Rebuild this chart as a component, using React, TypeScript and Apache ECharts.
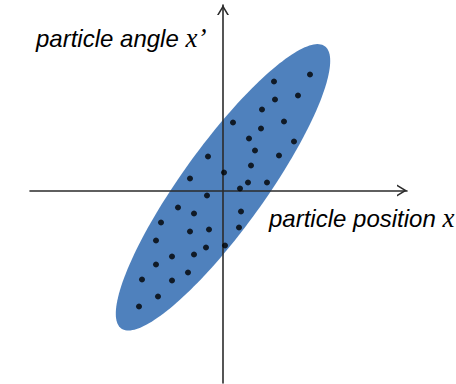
import React, { useEffect, useRef } from "react";
import * as echarts from "echarts";

// Phase-space particles: position x and angle x'
const particleX = [
  8.7, 5.1, 7.5, 5.2, 3.9, 1.0, 6.1, 3.8, 2.6, 7.1, 3.2, -1.5, 5.6, 2.8, 0.1, -3.3, 2.5, 4.4, 1.7,
  -1.6, -4.5, -2.9, 1.8, -6.2, -3.3, -1.4, 1.6, -6.7, 0.2, -1.7, -2.9, -5.1, -6.7, -3.5, -8.1, -5.1,
  -6.5, -8.4,
];
const particleXp = [
  11.6, 10.9, 9.5, 9.1, 8.1, 6.8, 6.9, 6.2, 5.2, 4.9, 4.0, 3.4, 3.5, 2.5, 1.8, 1.2, 0.8, 0.8, 0.2,
  -0.5, -1.7, -2.3, -2.1, -3.2, -4.1, -3.9, -3.7, -5.0, -5.5, -5.7, -6.4, -6.6, -7.4, -8.2, -8.9,
  -9.0, -10.6, -11.6,
];

// Emittance ellipse: centre x, centre x', semi-major, semi-minor, tilt (degrees)
const ellipseParams = [0.0, 0.32, 17.4, 4.15, 54.2];

const axisRangeX = [-19.3, 18.4];
const axisRangeY = [-19.25, 18.55];

const xLabel = "particle position ";
const xSymbol = "x";
const yLabel = "particle angle ";
const ySymbol = "x\u2019";

const AXIS_COLOR = "#2b2b2b";
const ELLIPSE_COLOR = "#4F81BD";
const chevron = "path://M0,10 L6,0 L12,10 L10.2,10 L6,3 L1.8,10 Z";

export default function App() {
  const ref = useRef<HTMLDivElement>(null);

  useEffect(() => {
    if (!ref.current) return;
    const chart = echarts.init(ref.current, undefined, { renderer: "svg" });

    const axisCommon = {
      type: "value",
      z: 5,
      axisLine: {
        show: true,
        onZero: true,
        symbol: ["none", chevron],
        symbolSize: [12, 10],
        symbolOffset: [0, -5],
        lineStyle: { color: AXIS_COLOR, width: 1.6 },
      },
      axisTick: { show: false },
      axisLabel: { show: false },
      splitLine: { show: false },
    };

    const labelFont = {
      fontFamily: "Liberation Sans, Arial, sans-serif",
      fontStyle: "italic",
      fontSize: 24,
      fill: "#000",
    };
    const symFont = {
      fontFamily: "Liberation Serif, Times New Roman, serif",
      fontStyle: "italic",
      fontSize: 27,
      fill: "#000",
    };

    chart.setOption({
      animation: false,
      grid: { left: 30, right: 49, top: 5, bottom: 1, containLabel: false },
      xAxis: { ...axisCommon, min: axisRangeX[0], max: axisRangeX[1] },
      yAxis: { ...axisCommon, min: axisRangeY[0], max: axisRangeY[1] },
      graphic: [
        {
          type: "text",
          x: 36,
          y: 38,
          z: 20,
          style: {
            text: `{a|${yLabel}}{b|${ySymbol}}`,
            verticalAlign: "middle",
            rich: { a: labelFont, b: symFont },
          },
        },
        {
          type: "text",
          x: 269,
          y: 218,
          z: 20,
          style: {
            text: `{a|${xLabel}}{b|${xSymbol}}`,
            verticalAlign: "middle",
            rich: { a: labelFont, b: symFont },
          },
        },
      ],
      series: [
        {
          type: "custom",
          z: 1,
          silent: true,
          data: [ellipseParams],
          renderItem: (_params: any, api: any) => {
            const cx = api.value(0);
            const cy = api.value(1);
            const a = api.value(2);
            const b = api.value(3);
            const t = (api.value(4) * Math.PI) / 180;
            const pts: number[][] = [];
            const n = 180;
            for (let i = 0; i < n; i++) {
              const u = (i / n) * Math.PI * 2;
              const px = cx + a * Math.cos(u) * Math.cos(t) - b * Math.sin(u) * Math.sin(t);
              const py = cy + a * Math.cos(u) * Math.sin(t) + b * Math.sin(u) * Math.cos(t);
              pts.push(api.coord([px, py]));
            }
            return {
              type: "polygon",
              shape: { points: pts },
              style: { fill: ELLIPSE_COLOR },
            };
          },
        },
        {
          type: "scatter",
          z: 10,
          symbol: "circle",
          symbolSize: 6,
          itemStyle: { color: "#000" },
          data: particleX.map((x, i) => [x, particleXp[i]]),
        },
      ],
    });

    return () => chart.dispose();
  }, []);

  return <div ref={ref} style={{ width: 456, height: 384, position: "absolute", left: 0, top: 0 }} />;
}
